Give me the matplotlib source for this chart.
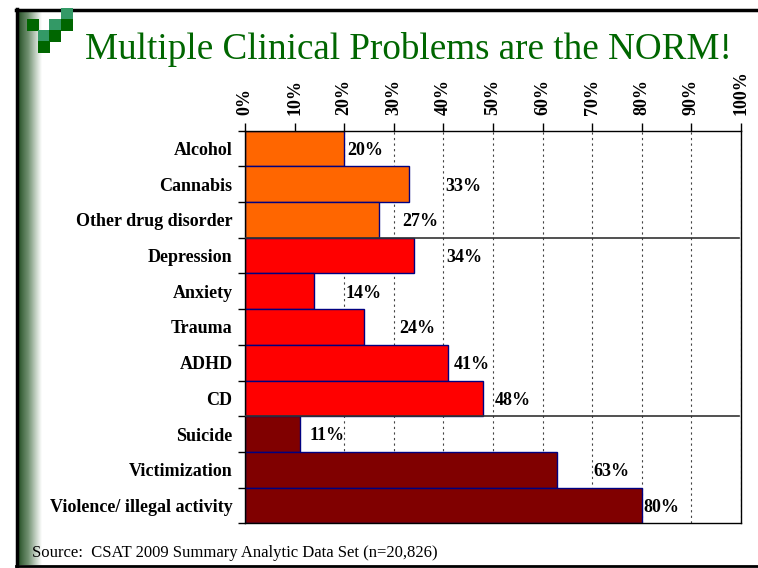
import numpy as np
import matplotlib
matplotlib.use('Agg')
import matplotlib.pyplot as plt
import matplotlib.patches as patches
from matplotlib.colors import LinearSegmentedColormap

# Data
categories = ['Alcohol', 'Cannabis', 'Other drug disorder', 'Depression', 'Anxiety',
              'Trauma', 'ADHD', 'CD', 'Suicide', 'Victimization',
              'Violence/ illegal activity']
values = [20, 33, 27, 34, 14, 24, 41, 48, 11, 63, 80]
groups = ['substance'] * 3 + ['mental'] * 5 + ['risk'] * 3
tick_values = list(range(0, 101, 10))
tick_labels = [str(t) + '%' for t in tick_values]

group_colors = {'substance': '#FF6600', 'mental': '#FF0000', 'risk': '#800000'}
# where the value labels sit on the slide (in % units)
label_x = [20.6, 40.3, 31.7, 40.5, 20.2, 31.0, 42.1, 50.4, 13.1, 70.2, 80.4]

plt.rcParams['font.family'] = ['Liberation Serif', 'DejaVu Serif']

W, H = 758, 568
fig = plt.figure(figsize=(W / 100, H / 100), dpi=100)

# Slide decoration drawn in pixel coordinates
bg = fig.add_axes([0, 0, 1, 1])
bg.set_xlim(0, W)
bg.set_ylim(H, 0)
bg.axis('off')

grad = np.linspace(0, 1, 256).reshape(1, -1) ** 0.8
cmap = LinearSegmentedColormap.from_list('side', ['#1c471c', '#6f8f6f', '#ffffff'])
bg.imshow(grad, cmap=cmap, extent=[18, 42, 565, 11], aspect='auto', zorder=1)

bg.plot([17, 17], [9, 567], color='black', lw=2.5, zorder=3)
bg.plot([16, W], [10, 10], color='black', lw=2.5, zorder=3)
bg.plot([16, W], [566, 566], color='black', lw=2, zorder=3)

dark, light = '#006600', '#339966'
squares = [(61, 8, light), (27, 19, dark), (49, 19, light), (61, 19, dark),
           (38, 30, light), (49, 30, dark), (38, 41, dark)]
for sx, sy, c in squares:
    bg.add_patch(patches.Rectangle((sx, sy), 11.5, 11.5, facecolor=c,
                                   edgecolor='none', zorder=4))

fig.text(85 / W, 1 - 59 / H, 'Multiple Clinical Problems are the NORM!',
         fontsize=26.7, color='#006600', va='baseline', ha='left')
fig.text(32 / W, 1 - 557 / H,
         'Source:  CSAT 2009 Summary Analytic Data Set (n=20,826)',
         fontsize=12, va='baseline', ha='left')

# Bar chart
ax = fig.add_axes([245 / W, 1 - 523.3 / H, 496 / W, 392.6 / H])
y = np.arange(len(categories))
colors = [group_colors[g] for g in groups]
ax.barh(y, values, height=1.0, color=colors, edgecolor='#000080',
        linewidth=1, zorder=2)

for yi, v, lx in zip(y, values, label_x):
    ax.text(lx, yi + 0.05, str(v) + '%', fontsize=13, fontweight='bold',
            va='center', ha='left', zorder=4)

# group separators
for b in [2.5, 7.5]:
    ax.plot([0, 99.6], [b, b], color='#333333', lw=1.2, zorder=3)

ax.set_xlim(0, 100)
ax.set_ylim(len(categories) - 0.5, -0.5)
ax.xaxis.tick_top()
ax.set_xticks(tick_values)
ax.set_xticklabels(tick_labels, rotation=90, fontsize=13, fontweight='bold')
ax.tick_params(axis='x', length=6, width=1, pad=5)
ax.grid(axis='x', linestyle=(0, (2, 3)), color='#444444', lw=0.8, zorder=1)

ax.set_yticks(y)
ax.set_yticklabels(categories, fontsize=13, fontweight='bold')
ax.set_yticks(np.arange(-0.5, len(categories)), minor=True)
ax.tick_params(axis='y', which='major', length=0, pad=9)
ax.tick_params(axis='y', which='minor', length=5, width=1)

for s in ax.spines.values():
    s.set_color('black')
    s.set_linewidth(1)

plt.savefig('out.png', dpi=100)
